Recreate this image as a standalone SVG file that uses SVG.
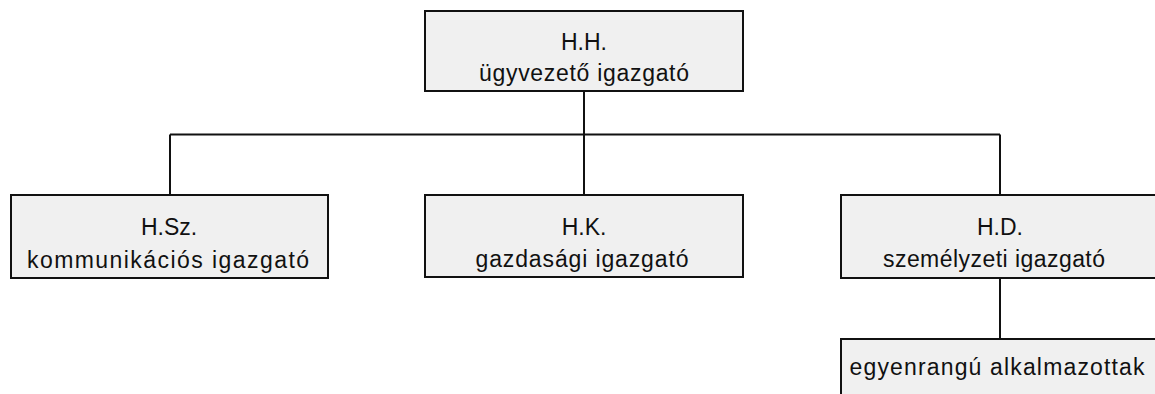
<svg xmlns="http://www.w3.org/2000/svg" width="1155" height="394" viewBox="0 0 1155 394">
<style>
.box{fill:#f0f0f0;stroke:#111;stroke-width:2}
.t{font-family:"Liberation Sans",Arial,sans-serif;font-size:23px;fill:#111;text-anchor:middle}
.c{stroke:#111;stroke-width:2;fill:none}
</style>
<rect width="1155" height="394" fill="#fff"/>
<g id="connectors">
<path class="c" d="M584 91V134.5M170 134.5H1000M170 134.5V195M584 134.5V195M1000 134.5V195M1000 278V339"/>
</g>
<g id="node-hh">
<rect class="box" x="425" y="11" width="318" height="80"/>
<text class="t" x="584" y="50">H.H.</text>
<text class="t" x="584" y="81" textLength="210" lengthAdjust="spacing">ügyvezető igazgató</text>
</g>
<g id="node-hsz">
<rect class="box" x="11" y="195" width="317" height="83"/>
<text class="t" x="169" y="235">H.Sz.</text>
<text class="t" x="168" y="268" textLength="282" lengthAdjust="spacing">kommunikációs igazgató</text>
</g>
<g id="node-hk">
<rect class="box" x="425" y="195" width="318" height="82"/>
<text class="t" x="584" y="235">H.K.</text>
<text class="t" x="582" y="267" textLength="213" lengthAdjust="spacing">gazdasági igazgató</text>
</g>
<g id="node-hd">
<rect class="box" x="841" y="195" width="318" height="83"/>
<text class="t" x="1000" y="235">H.D.</text>
<text class="t" x="994" y="267" textLength="222" lengthAdjust="spacing">személyzeti igazgató</text>
</g>
<g id="node-egy">
<rect class="box" x="841" y="339" width="318" height="80"/>
<text class="t" x="997" y="375" textLength="295" lengthAdjust="spacing">egyenrangú alkalmazottak</text>
</g>
</svg>
